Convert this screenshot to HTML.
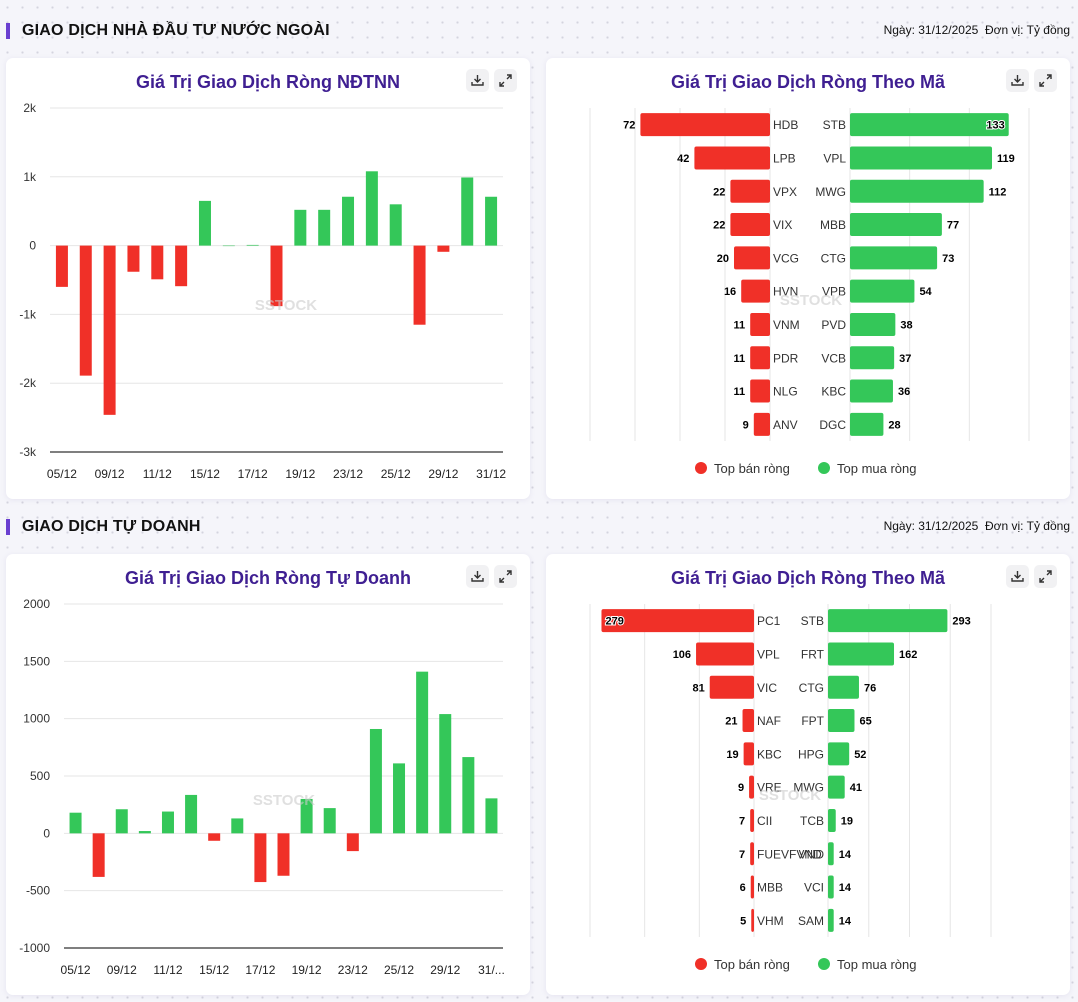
<!DOCTYPE html>
<html><head><meta charset="utf-8">
<style>
*{margin:0;padding:0;box-sizing:border-box}
body{width:1078px;height:1002px;overflow:hidden;background:#f5f5fa;font-family:"Liberation Sans",sans-serif;position:relative;
background-image:radial-gradient(#d4d4de 1px,transparent 1.2px);background-size:15px 15px;}
.sec{position:absolute;left:6px;font-weight:bold;font-size:16px;color:#111;padding-left:12px;border-left:4px solid #6a3fd0;line-height:16px;letter-spacing:0.2px}
.meta{position:absolute;right:8px;font-size:12px;color:#111}
.panel{position:absolute;background:#fff;border-radius:7px;box-shadow:0 1px 6px rgba(120,110,170,0.12)}
.title{position:absolute;left:0;right:0;top:14px;text-align:center;font-weight:bold;font-size:18px;color:#3f1f92}
.btn{position:absolute;top:11px;width:23px;height:23px;background:#f1f1f3;border-radius:5px}
.btn svg{position:absolute;left:5px;top:5px}
svg#c{position:absolute;left:0;top:0}
</style></head><body>
<div class="sec" style="top:23px">GIAO DỊCH NHÀ ĐẦU TƯ NƯỚC NGOÀI</div>
<div class="meta" style="top:23px">Ngày: 31/12/2025 &nbsp;Đơn vị: Tỷ đồng</div>
<div class="sec" style="top:519px">GIAO DỊCH TỰ DOANH</div>
<div class="meta" style="top:519px">Ngày: 31/12/2025 &nbsp;Đơn vị: Tỷ đồng</div>

<div class="panel" style="left:6px;top:58px;width:524px;height:441px">
<div class="title">Giá Trị Giao Dịch Ròng NĐTNN</div>
<div class="btn" style="left:460px"><svg width="13" height="13"><path d="M6.5 1v7M3.5 5l3 3 3-3M1 8v3h11V8" stroke="#333" stroke-width="1.4" fill="none"/></svg></div>
<div class="btn" style="left:488px"><svg width="13" height="13"><path d="M8 1h4v4M12 1L8 5M5 12H1V8M1 12l4-4" stroke="#333" stroke-width="1.4" fill="none"/></svg></div></div>
<div class="panel" style="left:546px;top:58px;width:524px;height:441px">
<div class="title">Giá Trị Giao Dịch Ròng Theo Mã</div>
<div class="btn" style="left:460px"><svg width="13" height="13"><path d="M6.5 1v7M3.5 5l3 3 3-3M1 8v3h11V8" stroke="#333" stroke-width="1.4" fill="none"/></svg></div>
<div class="btn" style="left:488px"><svg width="13" height="13"><path d="M8 1h4v4M12 1L8 5M5 12H1V8M1 12l4-4" stroke="#333" stroke-width="1.4" fill="none"/></svg></div></div>
<div class="panel" style="left:6px;top:554px;width:524px;height:441px">
<div class="title">Giá Trị Giao Dịch Ròng Tự Doanh</div>
<div class="btn" style="left:460px"><svg width="13" height="13"><path d="M6.5 1v7M3.5 5l3 3 3-3M1 8v3h11V8" stroke="#333" stroke-width="1.4" fill="none"/></svg></div>
<div class="btn" style="left:488px"><svg width="13" height="13"><path d="M8 1h4v4M12 1L8 5M5 12H1V8M1 12l4-4" stroke="#333" stroke-width="1.4" fill="none"/></svg></div></div>
<div class="panel" style="left:546px;top:554px;width:524px;height:441px">
<div class="title">Giá Trị Giao Dịch Ròng Theo Mã</div>
<div class="btn" style="left:460px"><svg width="13" height="13"><path d="M6.5 1v7M3.5 5l3 3 3-3M1 8v3h11V8" stroke="#333" stroke-width="1.4" fill="none"/></svg></div>
<div class="btn" style="left:488px"><svg width="13" height="13"><path d="M8 1h4v4M12 1L8 5M5 12H1V8M1 12l4-4" stroke="#333" stroke-width="1.4" fill="none"/></svg></div></div>

<svg id="c" width="1078" height="1002"></svg>
<script>
const dates=["05/12","08/12","09/12","10/12","11/12","12/12","15/12","16/12","17/12","18/12","19/12","22/12","23/12","24/12","25/12","26/12","29/12","30/12","31/12"];
const foreignVals=[-600,-1890,-2460,-380,-490,-590,650,0,10,-880,520,520,710,1080,600,-1150,-90,990,710];
const foreignTicks=["2k","1k","0","-1k","-2k","-3k"];
const propVals=[180,-380,210,20,190,335,-65,130,-425,-370,300,220,-155,910,610,1410,1040,665,305];
const propTicks=["2000","1500","1000","500","0","-500","-1000"];
const propLastLabel="31/...";

const fSellNames=["HDB","LPB","VPX","VIX","VCG","HVN","VNM","PDR","NLG","ANV"];
const fSellVals=[72,42,22,22,20,16,11,11,11,9];
const fBuyNames=["STB","VPL","MWG","MBB","CTG","VPB","PVD","VCB","KBC","DGC"];
const fBuyVals=[133,119,112,77,73,54,38,37,36,28];
const pSellNames=["PC1","VPL","VIC","NAF","KBC","VRE","CII","FUEVFVND","MBB","VHM"];
const pSellVals=[279,106,81,21,19,9,7,7,6,5];
const pBuyNames=["STB","FRT","CTG","FPT","HPG","MWG","TCB","VND","VCI","SAM"];
const pBuyVals=[293,162,76,65,52,41,19,14,14,14];

const NS="http://www.w3.org/2000/svg";
const svg=document.getElementById('c');
const RED="#f03028",GREEN="#34c759";
function mk(tag,at,txt){const e=document.createElementNS(NS,tag);for(const k in at)e.setAttribute(k,at[k]);if(txt!==undefined)e.textContent=txt;svg.appendChild(e);return e;}

function colChart(vals,ticks,yMax,yMin,x0,x1,yT,yB,labX,lastLbl){
  const y=v=>yT+(yMax-v)/(yMax-yMin)*(yB-yT);
  const n=vals.length,bw=(x1-x0)/n;
  ticks.forEach((t,i)=>{const v=yMax-i*(yMax-yMin)/(ticks.length-1);const yy=y(v);
    const g=mk('line',{x1:x0,x2:x1,y1:yy,y2:yy,stroke:i==ticks.length-1?'#333':'#e6e6e6','stroke-width':i==ticks.length-1?1.2:1});
    
    
    const tl=mk('text',{x:labX,y:yy+4,'text-anchor':'end','font-size':12,fill:'#333'},t);
    
    
  });
  vals.forEach((v,i)=>{const cx=x0+bw*(i+0.5);const a=y(Math.max(v,0)),b=y(Math.min(v,0));
    const r=mk('rect',{x:cx-6,y:a,width:12,height:Math.max(b-a,0.5),fill:v>=0?GREEN:RED});
    
    
    if(i%2==0){const lbl=(i==n-1&&lastLbl)?lastLbl:dates[i];
      const t=mk('text',{x:cx,y:yB+26,'text-anchor':'middle','font-size':12,fill:'#222'},lbl);
      
      }
  });
}
colChart(foreignVals,foreignTicks,2000,-3000,50,503,108,452,36,null);
colChart(propVals,propTicks,2000,-1000,64,503,604,948,50,propLastLabel);

function hbar(sN,sV,bN,bV,lZ,lMax,lStep,lW,rZ,rMax,rStep,rW,yT,yB){
  const rows=sN.length,rh=(yB-yT)/rows;
  for(let v=0;v<=lMax;v+=lStep){const xx=lZ-v/lMax*lW;const g=mk('line',{x1:xx,x2:xx,y1:yT,y2:yB,stroke:'#e6e6e6'});
    
    }
  for(let v=0;v<=rMax;v+=rStep){const xx=rZ+v/rMax*rW;const g=mk('line',{x1:xx,x2:xx,y1:yT,y2:yB,stroke:'#e6e6e6'});
    
    }
  const sMax=Math.max(...sV),bMax=Math.max(...bV);
  sN.forEach((nm,i)=>{const cy=yT+rh*(i+0.5);const w=sV[i]/lMax*lW;
    const r=mk('rect',{x:lZ-w,y:cy-11.5,width:w,height:23,rx:2,fill:RED});
    
    
    const inside=sV[i]==sMax&&w>lW*0.8;
    const t=mk('text',{x:inside?lZ-w+4:lZ-w-5,y:cy+4,'text-anchor':inside?'start':'end','font-size':11,'font-weight':'bold',fill:'#000',stroke:inside?'#fff':'none','stroke-width':inside?2:0,'paint-order':'stroke'},sV[i]);
    
    
    const l=mk('text',{x:lZ+3,y:cy+4.5,'font-size':12,fill:'#333'},nm);
    
    
  });
  bN.forEach((nm,i)=>{const cy=yT+rh*(i+0.5);const w=bV[i]/rMax*rW;
    const r=mk('rect',{x:rZ,y:cy-11.5,width:w,height:23,rx:2,fill:GREEN});
    
    
    const inside=bV[i]==bMax&&w>rW*0.85;
    const t=mk('text',{x:inside?rZ+w-4:rZ+w+5,y:cy+4,'text-anchor':inside?'end':'start','font-size':11,'font-weight':'bold',fill:'#000',stroke:inside?'#fff':'none','stroke-width':inside?2:0,'paint-order':'stroke'},bV[i]);
    
    
    const l=mk('text',{x:rZ-4,y:cy+4.5,'text-anchor':'end','font-size':12,fill:'#333'},nm);
    
    
  });
}
hbar(fSellNames,fSellVals,fBuyNames,fBuyVals,770,100,25,180,850,150,50,179,108,441);
hbar(pSellNames,pSellVals,pBuyNames,pBuyVals,754,300,100,164,828,400,100,163,604,937);

[468,964].forEach(y=>{
  let c=mk('circle',{cx:701,cy:y,r:6,fill:RED});
  let t=mk('text',{x:714,y:y+5,'font-size':13,fill:'#333'},'Top bán ròng');
  c=mk('circle',{cx:824,cy:y,r:6,fill:GREEN});
  t=mk('text',{x:837,y:y+5,'font-size':13,fill:'#333'},'Top mua ròng');
});
[[286,310],[811,305],[284,805],[790,800]].forEach(p=>{
  const t=mk('text',{x:p[0],y:p[1],'text-anchor':'middle','font-size':15,'font-weight':'bold',fill:'#ccc','fill-opacity':0.6},'SSTOCK');
  
  
});
</script>
</body></html>
